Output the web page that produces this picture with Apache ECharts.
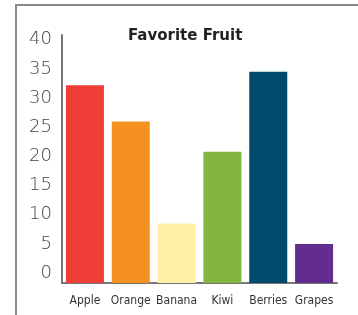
<!DOCTYPE html>
<html>
<head>
<meta charset="utf-8">
<script src="https://cdn.jsdelivr.net/npm/echarts@6/dist/echarts.min.js"></script>
<style>
    html, body { margin: 0; padding: 0; background: #fff; }
    #chart { width: 358px; height: 315px; }
</style>
</head>
<body>
<div id="chart"></div>
<script>
var fruits = ['Apple', 'Orange', 'Banana', 'Kiwi', 'Berries', 'Grapes'];
var votes = [33.9, 27.7, 10.2, 22.5, 36.2, 6.7];
var barColors = ['#ee3e37', '#f59120', '#fff0a6', '#82b53e', '#004b6b', '#632d90'];
var yTicks = [0, 5, 10, 15, 20, 25, 30, 35, 40];

var myChart = echarts.init(document.getElementById('chart'));
myChart.setOption({
    animation: false,
    title: {
        text: 'Favorite Fruit',
        left: 123,
        top: 24,
        textStyle: {
            fontFamily: 'DejaVu Sans',
            fontWeight: 'bold',
            fontSize: 15,
            color: '#222'
        }
    },
    graphic: [{
        type: 'rect',
        shape: { x: 16, y: 5, width: 400, height: 400 },
        style: { fill: 'none', stroke: '#8a8a8a', lineWidth: 2 }
    }],
    grid: {
        left: 62,
        right: 21,
        top: 35,
        bottom: 32
    },
    xAxis: {
        type: 'category',
        data: fruits,
        axisLine: { lineStyle: { color: '#777', width: 2 } },
        axisTick: { show: false },
        axisLabel: {
            interval: 0,
            margin: 12,
            fontFamily: 'DejaVu Sans Condensed',
            fontSize: 12,
            color: '#333'
        }
    },
    yAxis: {
        type: 'value',
        min: 0,
        max: 42.52,
        splitLine: { show: false },
        axisLine: { show: true, lineStyle: { color: '#777', width: 2 } },
        axisTick: { show: false, customValues: yTicks },
        axisLabel: {
            customValues: yTicks,
            margin: 10,
            verticalAlign: 'bottom',
            lineHeight: 20,
            fontFamily: 'DejaVu Sans',
            fontWeight: 200,
            fontSize: 18,
            color: '#444'
        }
    },
    series: [{
        type: 'bar',
        barWidth: 38,
        data: votes.map(function (v, i) {
            return { value: v, itemStyle: { color: barColors[i] } };
        })
    }]
});
</script>
</body>
</html>
